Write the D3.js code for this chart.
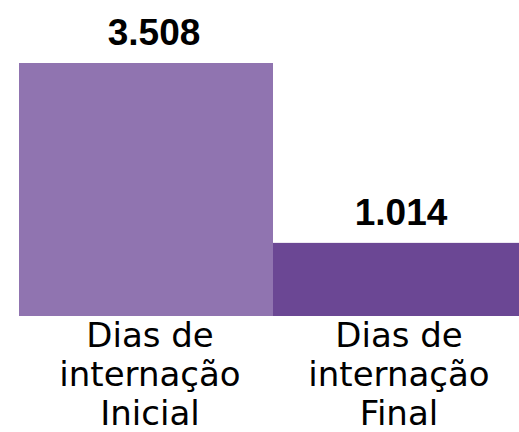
<!DOCTYPE html>
<html>
<head>
<meta charset="utf-8">
<script src="https://cdn.jsdelivr.net/npm/d3@7"></script>
<style>
body{margin:0;background:#fff;}
svg{display:block;}
</style>
</head>
<body>
<svg></svg>
<script>
// data
var categories = [["Dias de","internação","Inicial"],["Dias de","internação","Final"]];
var values = [3.508, 1.014];
var valueLabels = ["3.508","1.014"];
var barColors = ["#9074b0","#6b4794"];

var screen = {width:519,height:432};
var svg = d3.select("svg")
    .attr("width",screen.width)
    .attr("height",screen.height);

// bars run past the right edge like in the original
var xScale = d3.scaleBand()
    .domain(d3.range(values.length))
    .range([19,527])
    .padding(0);

var yScale = d3.scaleLinear()
    .domain([0,3.508])
    .range([316,63]);

svg.append("g")
    .selectAll("rect")
    .data(values)
    .enter()
    .append("rect")
    .attr("x",function(d,i){ return xScale(i);})
    .attr("y",function(d){ return yScale(d);})
    .attr("width",xScale.bandwidth())
    .attr("height",function(d){ return yScale(0)-yScale(d);})
    .attr("fill",function(d,i){ return barColors[i];});

// value labels
svg.append("g")
    .selectAll("text")
    .data(values)
    .enter()
    .append("text")
    .text(function(d,i){ return valueLabels[i];})
    .attr("x",function(d,i){ return xScale(i)+xScale.bandwidth()/2 + (i==0?8:1);})
    .attr("y",function(d){ return yScale(d)-18;})
    .attr("text-anchor","middle")
    .attr("font-family","Liberation Sans, Arial, sans-serif")
    .attr("font-weight","bold")
    .attr("font-size",37)
    .attr("fill","#000");

// category labels, three lines each
var cats = svg.append("g")
    .selectAll("text")
    .data(categories)
    .enter()
    .append("text")
    .attr("text-anchor","middle")
    .attr("font-family","DejaVu Sans, sans-serif")
    .attr("font-size",34)
    .attr("fill","#000");

cats.selectAll("tspan")
    .data(function(d,i){ return d.map(function(s){ return {s:s,i:i};});})
    .enter()
    .append("tspan")
    .text(function(d){ return d.s;})
    .attr("x",function(d){ return xScale(d.i)+xScale.bandwidth()/2 + (d.i==0?4:-1);})
    .attr("y",function(d,j){ return 347+j*39;});
</script>
</body>
</html>
